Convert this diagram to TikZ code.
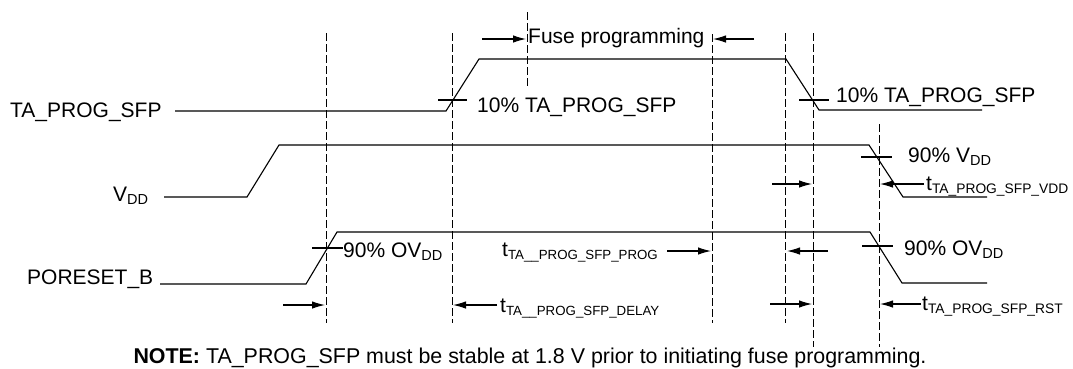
\documentclass[tikz,border=0pt]{standalone}
\usepackage{fontspec}
\setmainfont{Liberation Sans}
\usetikzlibrary{arrows.meta}
\newcommand{\sbx}[1]{\raisebox{-3pt}{\fontsize{14.5}{16}\selectfont #1}}
\newcommand{\sbt}[1]{\raisebox{-3pt}{\fontsize{13.8}{16}\selectfont #1}}
\newcommand{\sbs}[1]{\raisebox{-3pt}{\fontsize{13.3}{16}\selectfont #1}}
\begin{document}
\begin{tikzpicture}[x=1pt,y=-1pt,
  sig/.style={line width=1.1pt, line join=miter},
  guide/.style={line width=0.9pt, dash pattern=on 8pt off 3pt},
  tick/.style={line width=1.1pt},
  dim/.style={line width=1.1pt, -{Latex[length=13pt,width=7.5pt]}},
  lbl/.style={anchor=base west, inner sep=0pt, font=\fontsize{21}{25}\selectfont}]
\useasboundingbox (0,0) rectangle (1073,368);

% dashed guide lines
\draw[guide] (326.5,33) -- (326.5,323);
\draw[guide] (452,33) -- (452,323);
\draw[guide] (527,12) -- (527,87);
\draw[guide] (712,34) -- (712,323);
\draw[guide] (785.5,33) -- (785.5,323);
\draw[guide] (813.5,33) -- (813.5,347);
\draw[guide] (879,124) -- (879,347);

% signal labels
\node[lbl] (ta) at (10,117) {TA\_PROG\_SFP};
\node[lbl] (vdd) at (113,201) {V\sbx{DD}};
\node[lbl] (por) at (27,284) {PORESET\_B};

% waveforms
\draw[sig] (175,111) -- (446,111) -- (479,59) -- (786,59) -- (819,110) -- (982,110);
\draw[sig] (164,197) -- (247,197) -- (279,145) -- (869,145) -- (903,197) -- (987,197);
\draw[sig] (160,284) -- (306,284) -- (337,232) -- (870,232) -- (902,283) -- (987,283);

% threshold ticks
\draw[tick] (438,100) -- (467,100);
\draw[tick] (799,100) -- (829,100);
\draw[tick] (861,157) -- (892,157);
\draw[tick] (312,248) -- (343,248);
\draw[tick] (862,246) -- (893,246);

% threshold labels
\node[lbl] (ta10a) at (477,112) {10\% TA\_PROG\_SFP};
\node[lbl] (ta10b) at (836,102) {10\% TA\_PROG\_SFP};
\node[lbl] (v90) at (908,162) {90\% V\sbx{DD}};
\node[lbl] (ov90a) at (343,257) {90\% OV\sbx{DD}};
\node[lbl] (ov90b) at (904,255) {90\% OV\sbx{DD}};

% timing labels
\node[lbl] (fuse) at (528,43) {Fuse programming};
\node[lbl] (tvdd) at (926,190) {t\sbt{TA\_PROG\_SFP\_VDD}};
\node[lbl] (tprog) at (502,256) {t\sbs{TA\_\_PROG\_SFP\_PROG}};
\node[lbl] (tdelay) at (500,312) {t\sbs{TA\_\_PROG\_SFP\_DELAY}};
\node[lbl] (trst) at (922,310) {t\sbt{TA\_PROG\_SFP\_RST}};

% dimension arrows
\coordinate (f1s) at (482,39); \coordinate (f1e) at (526,39);
\coordinate (f2s) at (754,39); \coordinate (f2e) at (713,39);
\draw[dim] (f1s) -- (f1e);
\draw[dim] (f2s) -- (f2e);
\coordinate (a3s) at (283,305); \coordinate (a3e) at (325,305);
\coordinate (a4s) at (497,305); \coordinate (a4e) at (453,305);
\draw[dim] (a3s) -- (a3e);
\draw[dim] (a4s) -- (a4e);
\coordinate (a5s) at (667,251); \coordinate (a5e) at (711,251);
\coordinate (a6s) at (828,251); \coordinate (a6e) at (787,251);
\draw[dim] (a5s) -- (a5e);
\draw[dim] (a6s) -- (a6e);
\coordinate (a7s) at (770,304); \coordinate (a7e) at (812,304);
\coordinate (a8s) at (921,304); \coordinate (a8e) at (880,304);
\draw[dim] (a7s) -- (a7e);
\draw[dim] (a8s) -- (a8e);
\coordinate (a9s) at (772,184); \coordinate (a9e) at (812,184);
\coordinate (a10s) at (924,184); \coordinate (a10e) at (880,184);
\draw[dim] (a9s) -- (a9e);
\draw[dim] (a10s) -- (a10e);

% note
\node[anchor=base, inner sep=0pt, font=\fontsize{21.4}{25}\selectfont] (note) at (530,363)
  {\textbf{NOTE:} TA\_PROG\_SFP must be stable at 1.8 V prior to initiating fuse programming.};
\end{tikzpicture}
\end{document}
